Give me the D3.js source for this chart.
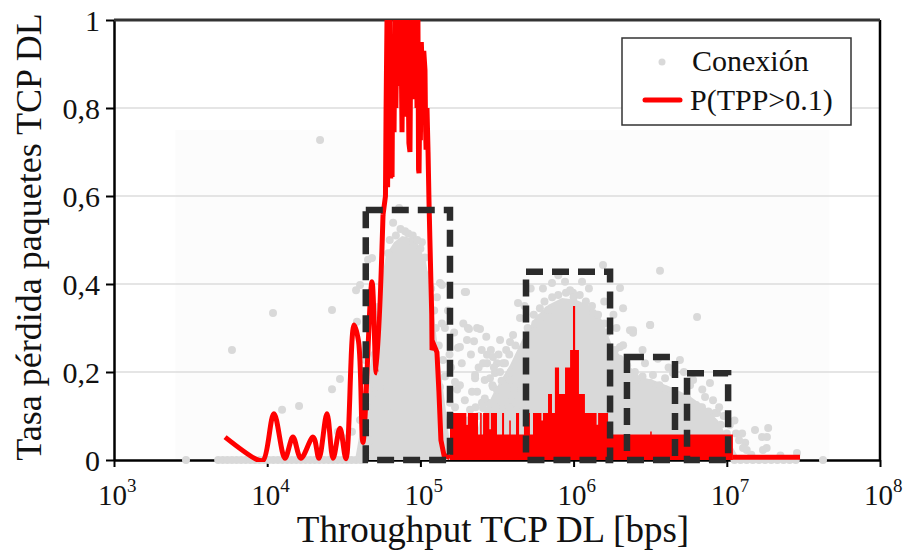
<!DOCTYPE html>
<html lang="es">
<head>
<meta charset="UTF-8">
<title>Tasa de pérdida TCP DL</title>
<style>
  body { margin: 0; background: #fff; }
</style>
</head>
<body>
<svg id="chart"></svg>
<script src="https://cdn.jsdelivr.net/npm/d3@7/dist/d3.min.js"></script>
<script>
// ---- data (throughput as log10(bps), loss rate 0..1) ----
const xTicks = [1e3, 1e4, 1e5, 1e6, 1e7, 1e8];
const xTickExp = ["3", "4", "5", "6", "7", "8"];
const yTicks = [0, 0.2, 0.4, 0.6, 0.8, 1];
const yTickLabels = ["0", "0,2", "0,4", "0,6", "0,8", "1"];

// dense cores of the point cloud (upper envelope)
const cloud1Log = [4.573, 4.619, 4.658, 4.697, 4.736, 4.775, 4.828, 4.88, 4.932, 4.984, 5.037, 5.076, 5.108, 5.141, 5.174, 5.206];
const cloud1Top = [0, 0.091, 0.182, 0.273, 0.386, 0.466, 0.495, 0.509, 0.505, 0.491, 0.45, 0.364, 0.273, 0.182, 0.091, 0];
const cloud2Log = [5.324, 5.389, 5.487, 5.585, 5.663, 5.748, 5.833, 5.924, 6.016, 6.107, 6.185, 6.251, 6.336, 6.433, 6.531, 6.642, 6.76, 6.858, 6.943, 7.021, 7.086];
const cloud2Top = [0, 0.091, 0.159, 0.216, 0.273, 0.323, 0.352, 0.368, 0.364, 0.35, 0.318, 0.261, 0.223, 0.19, 0.18, 0.165, 0.145, 0.12, 0.09, 0.04, 0];

// connections lying on the zero line
const zeroLog = [3.47, 3.68, 3.71, 3.74, 3.77, 3.80, 3.83, 3.86, 3.89, 3.92, 3.95, 3.98, 4.01, 4.04, 4.07, 4.10,
  4.13, 4.16, 4.19, 4.22, 4.25, 4.28, 4.31, 4.34, 4.37, 4.40, 4.43, 4.46, 4.49, 4.52, 4.55, 4.58, 4.61,
  7.05, 7.09, 7.13, 7.17, 7.21, 7.25, 7.29, 7.33, 7.37, 7.41, 7.45, 7.628];

// isolated connections [log10 bps, loss]
const conexion = [
  [3.77, 0.25], [4.038, 0.334], [4.097, 0.114], [4.208, 0.123], [4.345, 0.727], [4.423, 0.341], [4.423, 0.161],
  [4.475, 0.184], [4.462, 0.064], [4.553, 0.064], [4.495, 0.05], [4.586, 0.314], [4.606, 0.091], [4.58, 0.386],
  [4.606, 0.398], [4.658, 0.455], [4.723, 0.348], [4.69, 0.136], [4.736, 0.166], [4.789, 0.107], [4.64, 0.227],
  [4.67, 0.045], [4.684, 0.459], [4.861, 0.573], [4.822, 0.539], [4.952, 0.493], [5.01, 0.495],
  [5.128, 0.402], [5.29, 0.382], [5.108, 0.37], [5.37, 0.30], [5.304, 0.273], [5.245, 0.255], [5.147, 0.227],
  [5.128, 0.166], [5.193, 0.13], [5.226, 0.177], [5.298, 0.382], [5.317, 0.298], [5.389, 0.298], [5.435, 0.239],
  [5.435, 0.22], [5.357, 0.193], [5.42, 0.182], [5.50, 0.22], [5.474, 0.166], [5.37, 0.155], [5.29, 0.136],
  [5.409, 0.118], [5.324, 0.114], [5.454, 0.091], [5.141, 0.398], [5.637, 0.357], [5.65, 0.323], [5.31, 0.30],
  [5.52, 0.273], [5.585, 0.268], [5.258, 0.257], [5.474, 0.234], [5.409, 0.22], [5.54, 0.22], [5.357, 0.186],
  [5.454, 0.186], [5.585, 0.182], [5.258, 0.17], [5.337, 0.155], [5.50, 0.159], [5.402, 0.13], [5.565, 0.132],
  [5.226, 0.12], [5.63, 0.114],
  [6.192, 0.443], [6.303, 0.391], [6.323, 0.345], [6.368, 0.295], [5.859, 0.402], [5.944, 0.405], [6.055, 0.405],
  [5.996, 0.38], [5.833, 0.341], [5.78, 0.323], [6.127, 0.334], [6.564, 0.43], [5.977, 0.386], [5.846, 0.341],
  [6.153, 0.33], [6.806, 0.325], [6.50, 0.307], [6.388, 0.295], [5.605, 0.284], [6.303, 0.257], [5.552, 0.22],
  [5.487, 0.198], [6.694, 0.227], [6.649, 0.198], [6.78, 0.182], [6.89, 0.175], [6.414, 0.166], [6.74, 0.143],
  [6.91, 0.136], [6.825, 0.12], [6.936, 0.107],
  [7.184, 0.068], [7.262, 0.052], [7.12, 0.039], [7.13, 0.023], [7.26, 0.027], [7.458, 0.016], [6.499, 0.307],
  [6.388, 0.289], [6.323, 0.261], [6.466, 0.22], [6.597, 0.186], [6.518, 0.193], [6.858, 0.143], [6.838, 0.12],
  [6.923, 0.107], [7.27, 0.073], [7.23, 0.052], [7.106, 0.027], [7.236, 0.023], [7.06, 0.06], [7.08, 0.045],
  [7.16, 0.012], [7.35, 0.01],
  // ragged rim of the first cloud
  [4.80, 0.50], [4.84, 0.51], [4.87, 0.525], [4.90, 0.52], [4.92, 0.515], [4.95, 0.51], [4.98, 0.50], [5.0, 0.48],
  [5.03, 0.46], [5.05, 0.42], [5.07, 0.39], [5.09, 0.34], [5.10, 0.30], [5.12, 0.26], [4.79, 0.47], [4.77, 0.42],
  [4.75, 0.40], [4.72, 0.33], [4.71, 0.29], [4.70, 0.24], [4.68, 0.20], [4.66, 0.16], [4.65, 0.12],
  // between the two clouds
  [5.16, 0.30], [5.18, 0.34], [5.20, 0.21], [5.22, 0.29], [5.24, 0.16], [5.27, 0.22], [5.28, 0.31], [5.33, 0.24],
  [5.35, 0.27], [5.38, 0.21], [5.40, 0.25], [5.43, 0.28], [5.46, 0.25], [5.48, 0.21], [5.51, 0.24], [5.53, 0.18],
  [5.56, 0.25], [5.59, 0.20], [5.61, 0.16], [5.63, 0.22], [5.66, 0.19], [5.68, 0.25], [5.20, 0.10], [5.25, 0.085],
  [5.31, 0.09], [5.36, 0.12], [5.44, 0.13], [5.49, 0.12], [5.53, 0.10], [5.58, 0.12], [5.64, 0.14], [5.67, 0.11],
  [5.14, 0.31], [5.16, 0.19], [5.19, 0.24],
  // ragged rim of the second cloud
  [5.70, 0.30], [5.74, 0.33], [5.78, 0.345], [5.81, 0.36], [5.86, 0.37], [5.90, 0.375], [5.95, 0.38], [6.0, 0.37],
  [6.04, 0.375], [6.08, 0.36], [6.12, 0.35], [6.16, 0.33], [6.20, 0.31], [6.22, 0.29], [6.27, 0.25], [6.30, 0.23],
  [6.35, 0.215], [6.40, 0.20], [6.45, 0.19], [6.50, 0.175], [6.56, 0.17], [6.60, 0.16], [6.65, 0.15], [6.70, 0.14],
  [6.80, 0.125], [6.88, 0.11], [6.96, 0.08], [7.0, 0.06], [5.62, 0.26], [5.58, 0.24], [5.52, 0.20], [5.47, 0.17],
  [5.42, 0.14], [5.38, 0.10], [5.68, 0.35], [5.72, 0.39], [5.75, 0.31], [5.80, 0.39], [5.90, 0.42], [6.10, 0.39],
  [6.20, 0.36], [6.26, 0.33], [6.28, 0.30],
  // tail above 1e6
  [6.45, 0.25], [6.55, 0.23], [6.62, 0.21], [6.72, 0.20], [6.76, 0.17], [6.84, 0.16], [6.95, 0.12], [6.98, 0.10],
  [7.02, 0.08], [7.05, 0.09], [7.10, 0.06]
];

// P(TPP>0.1): smooth low-throughput part
const tppSmooth = [
  [3.725, 0.052], [3.94, 0.0], [3.975, 0.0], [4.044, 0.105], [4.116, 0.004], [4.168, 0.052], [4.22, 0.004],
  [4.30, 0.052], [4.338, 0.004], [4.39, 0.105], [4.43, 0.004], [4.475, 0.072], [4.514, 0.003], [4.567, 0.307],
  [4.596, 0.27], [4.625, 0.04], [4.684, 0.405], [4.712, 0.198], [4.756, 0.557]
];
// P(TPP>0.1): jagged peak around 1e5
const tppPeak = [
  [4.756, 0.557], [4.772, 0.60], [4.776, 0.80], [4.782, 1.0], [4.786, 0.62], [4.79, 1.0], [4.80, 1.0],
  [4.806, 0.64], [4.812, 0.90], [4.815, 0.643], [4.82, 0.95], [4.828, 0.745], [4.834, 1.0], [4.84, 0.80],
  [4.847, 1.0], [4.855, 0.87], [4.86, 1.0], [4.868, 0.85], [4.873, 1.0], [4.88, 0.745], [4.886, 0.95],
  [4.892, 0.80], [4.90, 1.0], [4.906, 0.78], [4.912, 1.0], [4.919, 0.9], [4.925, 0.72], [4.932, 0.70],
  [4.936, 0.9], [4.939, 0.83], [4.945, 1.0], [4.952, 0.88], [4.958, 1.0], [4.965, 0.82], [4.972, 1.0],
  [4.978, 0.8], [4.984, 1.0], [4.988, 0.66], [4.991, 0.652], [4.997, 0.85], [5.0, 0.727], [5.006, 0.95],
  [5.01, 0.905], [5.017, 0.857], [5.022, 0.93], [5.03, 0.886], [5.034, 0.75], [5.037, 0.705], [5.043, 0.80],
  [5.05, 0.70], [5.056, 0.59], [5.062, 0.50], [5.069, 0.40], [5.074, 0.33], [5.076, 0.25], [5.09, 0.26],
  [5.108, 0.245], [5.121, 0.155], [5.134, 0.045], [5.154, 0.011], [5.193, 0.005]
];
// P(TPP>0.1): noisy band (upper envelope, step) and flat tail
const tppBandLog = [5.193, 5.30, 5.31, 5.376, 5.39, 5.40, 5.409, 5.45, 5.46, 5.50, 5.533, 5.546, 5.58, 5.59,
  5.624, 5.644, 5.676, 5.715, 5.735, 5.79, 5.80, 5.833, 5.859, 5.878, 5.905, 5.944, 5.977, 5.996, 6.01, 6.035,
  6.074, 6.15, 6.16, 6.225, 6.50, 6.51, 7.04];
const tppBandTop = [0.107, 0.08, 0.107, 0.058, 0.107, 0.058, 0.107, 0.07, 0.107, 0.058, 0.107, 0.058, 0.09, 0.058,
  0.107, 0.058, 0.107, 0.058, 0.107, 0.09, 0.107, 0.15, 0.107, 0.21, 0.15, 0.21, 0.25, 0.35, 0.25, 0.15,
  0.107, 0.08, 0.107, 0.058, 0.065, 0.058, 0.058];
const tppTail = [[7.04, 0.006], [7.478, 0.006]];

// highlighted ranges
const boxLo = [4.4e4, 4.89e5, 2.23e6, 5.5e6];
const boxHi = [1.56e5, 1.73e6, 4.59e6, 1.02e7];
const boxTop = [0.568, 0.428, 0.234, 0.197];

// ---- drawing ----
const width = 903, height = 554;
const svg = d3.select("#chart").attr("width", width).attr("height", height);

const x = d3.scaleLog().domain([1e3, 1e8]).range([114, 880]);
const y = d3.scaleLinear().domain([0, 1]).range([460, 20]);
const px = e => x(Math.pow(10, e));

// pick a Times-like face if one is installed
function pickFont(cands, fallback) {
  const probe = svg.append("text").style("font-size", "40px").text("Conexión Tasa pérdida 0,8 [bps]");
  probe.style("font-family", "monospace");
  const base = probe.node().getComputedTextLength();
  for (const f of cands) {
    probe.style("font-family", '"' + f + '", monospace');
    if (Math.abs(probe.node().getComputedTextLength() - base) > 0.5) { probe.remove(); return f; }
  }
  probe.remove();
  return fallback;
}
const font = pickFont(["Liberation Serif", "Tinos", "Times New Roman", "DejaVu Serif", "Noto Serif",
  "FreeSerif", "Nimbus Roman", "Nimbus Roman No9 L"], "Liberation Sans");

// faint background panel
svg.append("rect")
  .attr("x", px(3.4)).attr("y", y(0.75))
  .attr("width", px(7.67) - px(3.4)).attr("height", y(0) - y(0.75))
  .attr("fill", "#fcfcfc");

// grid
svg.append("g").selectAll("line")
  .data(yTicks.slice(1, -1))
  .join("line")
  .attr("x1", x(1e3)).attr("x2", x(1e8))
  .attr("y1", d => y(d)).attr("y2", d => y(d))
  .attr("stroke", "#dcdcdc").attr("stroke-width", 1.5);

// axes
const yAxis = svg.append("g")
  .attr("transform", "translate(" + x(1e3) + ",0)")
  .call(d3.axisLeft(y).tickValues(yTicks).tickSize(8).tickSizeOuter(0).tickPadding(6)
    .tickFormat((d, i) => yTickLabels[i]));
yAxis.select(".domain").attr("stroke", "#000").attr("stroke-width", 2.5);
yAxis.selectAll(".tick line").attr("stroke", "#000").attr("stroke-width", 2);
yAxis.selectAll(".tick text").attr("font-size", 30).attr("dy", "0.36em");

const xAxis = svg.append("g")
  .attr("transform", "translate(0," + y(0) + ")")
  .call(d3.axisBottom(x).tickValues(xTicks).tickSize(7).tickSizeOuter(0).tickFormat(""));
xAxis.select(".domain").attr("stroke", "#000").attr("stroke-width", 2.5);
xAxis.selectAll(".tick line").attr("stroke", "#000").attr("stroke-width", 2);

const xl = svg.append("g").selectAll("text")
  .data(xTicks)
  .join("text")
  .attr("x", d => x(d) - 16)
  .attr("y", 505)
  .attr("font-size", 29);
xl.append("tspan").text("10");
xl.append("tspan").attr("font-size", 19).attr("dy", -13).text((d, i) => xTickExp[i]);

// right and top frame
svg.append("line").attr("x1", x(1e8)).attr("x2", x(1e8)).attr("y1", y(1)).attr("y2", y(0))
  .attr("stroke", "#000").attr("stroke-width", 2.5);
svg.append("line").attr("x1", x(1e3)).attr("x2", x(1e8)).attr("y1", y(1)).attr("y2", y(1))
  .attr("stroke", "#333").attr("stroke-width", 3);

// axis titles
svg.append("text")
  .attr("x", 493)
  .attr("y", 542)
  .attr("text-anchor", "middle")
  .attr("font-size", 37)
  .text("Throughput TCP DL [bps]");
svg.append("text")
  .attr("transform", "translate(41,237) rotate(-90)")
  .attr("text-anchor", "middle")
  .attr("font-size", 36)
  .text("Tasa pérdida paquetes TCP DL");

// point cloud
const grey = "#d9d9d9";
const cloudArea = d3.area().x(d => px(d[0])).y0(y(0)).y1(d => y(d[1]));
svg.append("path").datum(d3.zip(cloud1Log, cloud1Top)).attr("d", cloudArea).attr("fill", grey);
svg.append("path").datum(d3.zip(cloud2Log, cloud2Top)).attr("d", cloudArea).attr("fill", grey);

svg.append("g").selectAll("circle")
  .data(zeroLog.map(e => [e, 0]).concat(conexion))
  .join("circle")
  .attr("cx", d => px(d[0]))
  .attr("cy", d => y(d[1]))
  .attr("r", 4)
  .attr("fill", grey);

// red P(TPP>0.1)
svg.append("clipPath").attr("id", "plotClip")
  .append("rect").attr("x", x(1e3)).attr("y", y(1)).attr("width", x(1e8) - x(1e3)).attr("height", y(0) - y(1) + 2);
const red = svg.append("g").attr("clip-path", "url(#plotClip)");

red.append("path")
  .datum(d3.zip(tppBandLog, tppBandTop))
  .attr("d", d3.area().curve(d3.curveStepAfter).x(d => px(d[0])).y0(y(0)).y1(d => y(d[1])))
  .attr("fill", "#ff0000");

red.append("path").datum(tppSmooth)
  .attr("d", d3.line().curve(d3.curveCatmullRom.alpha(0.5)).x(d => px(d[0])).y(d => y(d[1])))
  .attr("fill", "none").attr("stroke", "#ff0000").attr("stroke-width", 5).attr("stroke-linejoin", "round");
red.append("path").datum(tppPeak)
  .attr("d", d3.line().x(d => px(d[0])).y(d => y(d[1])))
  .attr("fill", "none").attr("stroke", "#ff0000").attr("stroke-width", 5).attr("stroke-linejoin", "miter");
red.append("path").datum(tppTail)
  .attr("d", d3.line().x(d => px(d[0])).y(d => y(d[1])))
  .attr("fill", "none").attr("stroke", "#ff0000").attr("stroke-width", 5);

// dashed boxes
svg.append("g").selectAll("rect")
  .data(boxLo.map((d, i) => ({ lo: d, hi: boxHi[i], top: boxTop[i] })))
  .join("rect")
  .attr("x", d => x(d.lo))
  .attr("y", d => y(d.top))
  .attr("width", d => x(d.hi) - x(d.lo))
  .attr("height", d => y(0) - y(d.top))
  .attr("fill", "none")
  .attr("stroke", "#2b2b2b")
  .attr("stroke-width", 6.5)
  .attr("stroke-dasharray", "17,9");

// legend
const lg = svg.append("g");
lg.append("rect").attr("x", 622).attr("y", 38).attr("width", 229).attr("height", 87)
  .attr("fill", "#fff").attr("stroke", "#333").attr("stroke-width", 1.5);
lg.append("circle").attr("cx", 662).attr("cy", 62).attr("r", 3.5).attr("fill", grey);
lg.append("text").attr("x", 692).attr("y", 71).attr("font-size", 30).text("Conexión");
lg.append("line").attr("x1", 645).attr("x2", 680).attr("y1", 100).attr("y2", 100)
  .attr("stroke", "#ff0000").attr("stroke-width", 5).attr("stroke-linecap", "round");
lg.append("text").attr("x", 690).attr("y", 110).attr("font-size", 30).text("P(TPP>0.1)");

// apply font to every label
svg.selectAll("text").style("font-family", '"' + font + '", serif').style("fill", "#111");
</script>
</body>
</html>
